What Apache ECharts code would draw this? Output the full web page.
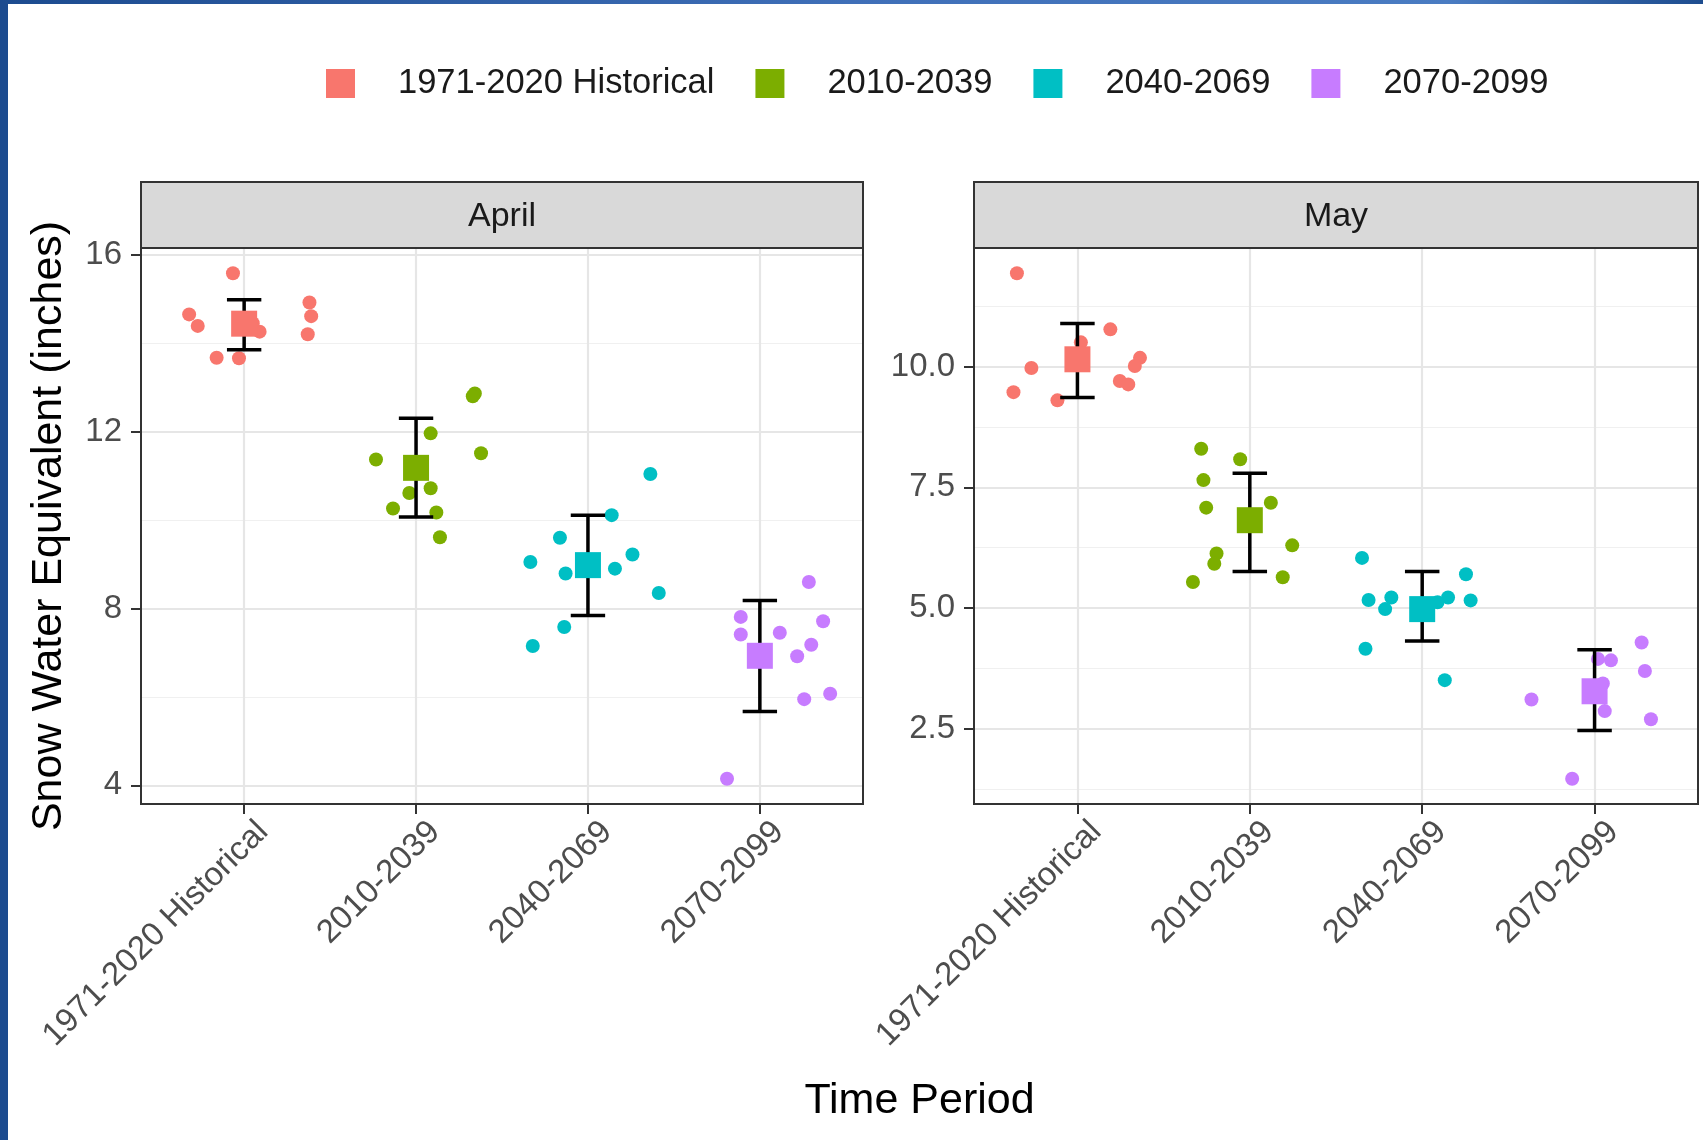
<!DOCTYPE html>
<html><head><meta charset="utf-8">
<script src="https://cdn.jsdelivr.net/npm/echarts@6/dist/echarts.min.js"></script>
<style>html,body{margin:0;padding:0;background:#fff}#c{width:1703px;height:1140px}</style>
</head><body><div id="c"></div>
<script>
const periods = ['1971-2020 Historical', '2010-2039', '2040-2069', '2070-2099'];
const colors = ['#F8766D', '#7CAE00', '#00BFC4', '#C77CFF'];
const months = ['April', 'May'];
const categoryPositions = [1, 2, 3, 4];
const aprilTicks = [4, 8, 12, 16];
const aprilMinor = [6, 10, 14];
const mayTicks = [2.5, 5, 7.5, 10];
const mayMinor = [1.25, 3.75, 6.25, 8.75, 11.25];

// jittered points: [position (category index + jitter), snow water equivalent]
const aprilHist = [[0.935,15.58],[0.68,14.65],[0.73,14.39],[0.84,13.67],[0.97,13.66],[1.09,14.26],[1.38,14.92],[1.39,14.61],[1.37,14.20],[1.05,14.45]];
const april2010 = [[2.342,12.86],[2.33,12.80],[2.085,11.96],[1.767,11.37],[2.378,11.51],[1.961,10.61],[2.085,10.72],[1.866,10.26],[2.118,10.17],[2.139,9.61]];
const april2040 = [[3.138,10.11],[2.837,9.60],[2.665,9.05],[2.870,8.79],[3.157,8.90],[3.259,9.22],[3.412,8.35],[2.862,7.58],[2.679,7.15],[3.363,11.04]];
const april2070 = [[4.285,8.60],[3.889,7.81],[3.889,7.41],[4.116,7.45],[4.368,7.71],[4.299,7.18],[4.217,6.92],[4.258,5.95],[4.409,6.07],[3.809,4.15]];
const aprilMean = [14.44, 11.18, 8.98, 6.93];
const aprilLow = [13.85, 10.07, 7.84, 5.67];
const aprilHigh = [14.98, 12.30, 10.11, 8.18];

const mayHist = [[0.649,11.93],[1.191,10.77],[0.733,9.97],[0.629,9.47],[0.884,9.30],[1.363,10.18],[1.333,10.01],[1.246,9.70],[1.295,9.63],[1.02,10.5]];
const may2010 = [[1.718,8.30],[1.944,8.08],[1.731,7.65],[2.122,7.18],[1.747,7.08],[2.246,6.30],[1.807,6.13],[1.794,5.92],[2.191,5.64],[1.670,5.54]];
const may2040 = [[2.651,6.04],[3.254,5.70],[2.689,5.17],[2.821,5.22],[2.785,4.98],[3.150,5.22],[3.281,5.16],[3.089,5.12],[2.671,4.16],[3.131,3.51]];
const may2070 = [[4.273,4.29],[4.095,3.92],[4.292,3.70],[3.634,3.11],[4.048,3.44],[4.059,2.87],[4.327,2.70],[3.870,1.47],[4.02,3.95],[3.98,3.35]];
const mayMean = [10.15, 6.82, 4.98, 3.28];
const mayLow = [9.36, 5.76, 4.32, 2.47];
const mayHigh = [10.89, 7.79, 5.76, 4.14];

const FONT = "'Liberation Sans', Arial, Helvetica, sans-serif";
const PLOT_TOP = 248, PLOT_H = 556, STRIP_TOP = 182, STRIP_H = 66;
const panelBox = [{left: 141, width: 722}, {left: 974, width: 724}];

const panelData = [
  {points: [aprilHist, april2010, april2040, april2070], mean: aprilMean, low: aprilLow, high: aprilHigh, ticks: aprilTicks, minor: aprilMinor, fmt: v => String(v)},
  {points: [mayHist, may2010, may2040, may2070], mean: mayMean, low: mayLow, high: mayHigh, ticks: mayTicks, minor: mayMinor, fmt: v => v.toFixed(1)}
];

function extent(p) {
  const vals = [];
  p.points.forEach(g => g.forEach(d => vals.push(d[1])));
  vals.push(...p.low, ...p.high);
  const lo = Math.min(...vals), hi = Math.max(...vals);
  const pad = (hi - lo) * 0.05;
  return [lo - pad, hi + pad];
}

const grids = [], xAxes = [], yAxes = [], series = [], graphics = [];

panelData.forEach((p, i) => {
  const box = panelBox[i];
  const [ymin, ymax] = extent(p);
  grids.push({left: box.left, top: PLOT_TOP, width: box.width, height: PLOT_H, show: true,
    backgroundColor: 'transparent', borderColor: '#333333', borderWidth: 2, z: 10, outerBoundsMode: 'none'});
  xAxes.push({type: 'value', gridIndex: i, min: 0.4, max: 4.6,
    axisLine: {show: false}, splitLine: {show: false},
    axisTick: {show: true, customValues: categoryPositions, length: 10, lineStyle: {color: '#333333', width: 2}},
    axisLabel: {customValues: categoryPositions, formatter: v => periods[Math.round(v) - 1],
      rotate: 45, align: 'right', verticalAlign: 'top', padding: [10, 0, 0, 0], margin: 4,
      fontSize: 33, color: '#4d4d4d', fontFamily: FONT}});
  const y = {type: 'value', gridIndex: i, min: ymin, max: ymax,
    axisLine: {show: false}, splitLine: {show: false},
    axisTick: {show: true, customValues: p.ticks, length: 10, lineStyle: {color: '#333333', width: 2}},
    axisLabel: {customValues: p.ticks, formatter: p.fmt, margin: 19, fontSize: 33, color: '#4d4d4d', fontFamily: FONT}};
  if (i === 0) {
    y.name = 'Snow Water Equivalent (inches)';
    y.nameLocation = 'middle';
    y.nameGap = 70;
    y.nameTextStyle = {fontSize: 43, color: '#000', fontFamily: FONT};
  }
  yAxes.push(y);

  // grid lines
  series.push({type: 'scatter', xAxisIndex: i, yAxisIndex: i, data: [], silent: true, z: 1,
    markLine: {silent: true, z: 1, symbol: 'none', animation: false, label: {show: false},
      data: [
        ...p.minor.map(v => ({yAxis: v, lineStyle: {color: '#f0f0f0', width: 1.2, type: 'solid'}})),
        ...p.ticks.map(v => ({yAxis: v, lineStyle: {color: '#e6e6e6', width: 2.2, type: 'solid'}})),
        ...categoryPositions.map(v => ({xAxis: v, lineStyle: {color: '#e6e6e6', width: 2.2, type: 'solid'}}))
      ]}});

  // jittered points
  p.points.forEach((g, k) => {
    series.push({type: 'scatter', name: periods[k], xAxisIndex: i, yAxisIndex: i, data: g,
      symbol: 'circle', symbolSize: 14, itemStyle: {color: colors[k], opacity: 1}, z: 3});
  });

  // error bars
  series.push({type: 'custom', name: 'range', xAxisIndex: i, yAxisIndex: i, z: 4, silent: true,
    data: p.low.map((l, k) => [categoryPositions[k], l, p.high[k]]),
    encode: {x: 0, y: [1, 2]},
    renderItem: (params, api) => {
      const x = api.value(0), l = api.value(1), h = api.value(2);
      const top = api.coord([x, h]), bot = api.coord([x, l]);
      const xl = api.coord([x - 0.1, h])[0], xr = api.coord([x + 0.1, h])[0];
      return {type: 'group', children: [
        {type: 'line', shape: {x1: top[0], y1: top[1], x2: bot[0], y2: bot[1]}, style: {stroke: '#000', lineWidth: 3.5}},
        {type: 'line', shape: {x1: xl, y1: top[1], x2: xr, y2: top[1]}, style: {stroke: '#000', lineWidth: 3.5}},
        {type: 'line', shape: {x1: xl, y1: bot[1], x2: xr, y2: bot[1]}, style: {stroke: '#000', lineWidth: 3.5}}
      ]};
    }});

  // means
  series.push({type: 'scatter', name: 'mean', xAxisIndex: i, yAxisIndex: i, z: 5,
    symbol: 'rect', symbolSize: 26,
    data: p.mean.map((m, k) => ({value: [categoryPositions[k], m], itemStyle: {color: colors[k], opacity: 1}}))});

  // facet strip
  graphics.push({type: 'rect', shape: {x: box.left, y: STRIP_TOP, width: box.width, height: STRIP_H},
    style: {fill: '#d9d9d9', stroke: '#333333', lineWidth: 2}, z: 1});
  graphics.push({type: 'text', x: box.left + box.width / 2, y: STRIP_TOP + STRIP_H / 2 + 2, z: 2,
    style: {text: months[i], fill: '#1a1a1a', font: '34px ' + FONT, align: 'center', verticalAlign: 'middle',
      textAlign: 'center', textVerticalAlign: 'middle'}});
});

// frame of the picture
graphics.push({type: 'rect', shape: {x: 0, y: 0, width: 8, height: 1140}, style: {fill: '#1c4b8f'}, z: 20});
graphics.push({type: 'rect', shape: {x: 0, y: 0, width: 1703, height: 4}, z: 20,
  style: {fill: new echarts.graphic.LinearGradient(0, 0, 1, 0, [
    {offset: 0, color: '#1c4b8f'}, {offset: 0.5, color: '#3f6fb8'}, {offset: 0.85, color: '#4a7cc2'}, {offset: 1, color: '#1e4d8f'}])}});
// x axis title
graphics.push({type: 'text', x: 919.5, y: 1101, z: 2,
  style: {text: 'Time Period', fill: '#000', font: '43px ' + FONT, align: 'center', verticalAlign: 'middle',
    textAlign: 'center', textVerticalAlign: 'middle'}});

const chart = echarts.init(document.getElementById('c'), null, {renderer: 'canvas'});
chart.setOption({
  animation: false,
  backgroundColor: '#ffffff',
  textStyle: {fontFamily: FONT},
  legend: {data: periods.map(n => ({name: n, icon: 'rect'})), left: 321, top: 61,
    itemWidth: 29, itemHeight: 29, itemGap: 41, selectedMode: false,
    textStyle: {fontSize: 34.5, color: '#1a1a1a', fontFamily: FONT, padding: [0, 0, 0, 38]}},
  grid: grids,
  xAxis: xAxes,
  yAxis: yAxes,
  series: series,
  graphic: graphics
});
</script>
</body></html>
